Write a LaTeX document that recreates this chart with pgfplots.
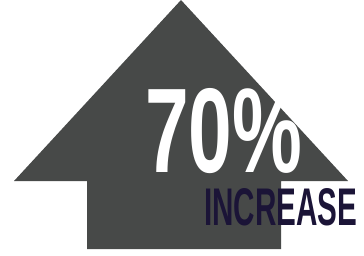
\documentclass[border=0pt]{standalone}
\usepackage{pgfplots}
\pgfplotsset{compat=1.18}
\usepackage{fontspec}
\setmainfont{Liberation Sans}
\definecolor{arrowgray}{RGB}{71,73,72}
\definecolor{navy}{RGB}{27,20,55}
\begin{document}
\begin{tikzpicture}
\begin{axis}[
  width=364bp, height=256bp, scale only axis,
  xmin=0, xmax=364, ymin=0, ymax=256, y dir=reverse,
  axis lines=none, clip=false,
]
\path[draw=none] (rel axis cs:0,0) rectangle (rel axis cs:1,1);
\addplot[fill=arrowgray, draw=none] coordinates {
  (181,0) (348,181) (281,181) (281,249) (87,249) (87,181) (14,181) (181,0)
} -- cycle;
\node[anchor=north west, inner sep=0pt, text=white] at (axis cs:145,88)
  {\resizebox{157bp}{84bp}{\bfseries 70\%}};
\node[anchor=north west, inner sep=0pt, text=navy] at (axis cs:204,188)
  {\resizebox{153bp}{37bp}{\bfseries INCREASE}};
\end{axis}
\end{tikzpicture}
\end{document}
